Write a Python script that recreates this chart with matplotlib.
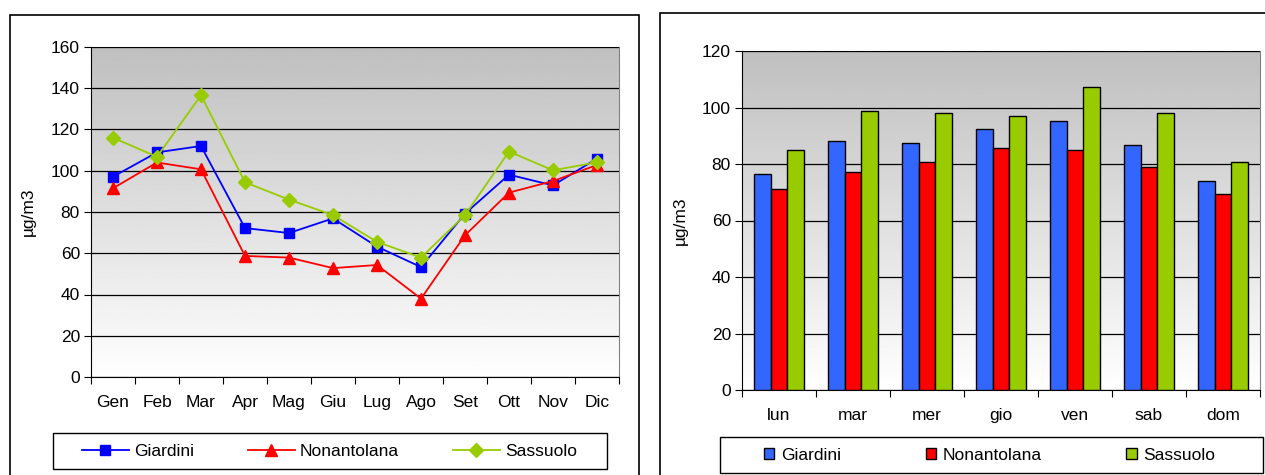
import numpy as np
import matplotlib
matplotlib.use("Agg")
import matplotlib.pyplot as plt
from matplotlib.patches import Rectangle, Patch
from matplotlib.lines import Line2D

plt.rcParams['font.family'] = ['Liberation Sans', 'DejaVu Sans']

# monthly means (left chart)
months = ['Gen', 'Feb', 'Mar', 'Apr', 'Mag', 'Giu', 'Lug', 'Ago', 'Set', 'Ott', 'Nov', 'Dic']
giardini_m = [97.1, 108.9, 112.0, 72.2, 69.8, 76.9, 63.2, 53.3, 79.2, 98.1, 92.9, 105.9]
nonantolana_m = [91.5, 104.0, 100.7, 58.7, 57.9, 52.8, 54.3, 38.0, 68.7, 89.4, 95.0, 102.8]
sassuolo_m = [116.0, 106.8, 136.6, 94.4, 86.0, 78.5, 65.5, 57.9, 78.5, 109.3, 100.2, 104.1]

# weekday means (right chart)
days = ['lun', 'mar', 'mer', 'gio', 'ven', 'sab', 'dom']
giardini_d = [76.6, 88.1, 87.5, 92.3, 95.2, 86.8, 74.0]
nonantolana_d = [71.1, 77.2, 80.7, 85.6, 85.0, 79.1, 69.3]
sassuolo_d = [84.9, 98.9, 98.2, 97.1, 107.3, 98.2, 80.7]

series = ['Giardini', 'Nonantolana', 'Sassuolo']

W, H = 1265, 475
FS = 12.5
fig = plt.figure(figsize=(W / 100, H / 100), dpi=100)
fig.patch.set_facecolor('white')


def px_axes(x0, y0, x1, y1):
    return fig.add_axes([x0 / W, 1 - y1 / H, (x1 - x0) / W, (y1 - y0) / H])


def px_box(x0, y0, x1, y1, lw=1.0):
    fig.patches.append(Rectangle((x0 / W, 1 - y1 / H), (x1 - x0) / W, (y1 - y0) / H,
                                 transform=fig.transFigure, fill=False,
                                 edgecolor='black', linewidth=lw))


def gradient_bg(ax):
    grad = np.linspace(1.0, 0.75, 256).reshape(-1, 1)
    ax.imshow(grad, cmap='gray', vmin=0, vmax=1, aspect='auto',
              extent=[0, 1, 0, 1], transform=ax.transAxes, zorder=0,
              origin='lower', interpolation='bilinear')


def style_axes(ax):
    for s in ['top', 'right']:
        ax.spines[s].set_color('#808080')
    for s in ['left', 'bottom']:
        ax.spines[s].set_color('black')
    ax.yaxis.grid(True, color='black', linewidth=0.9)
    ax.set_axisbelow(False)
    ax.tick_params(axis='y', direction='out', length=5, labelsize=FS, pad=3)
    ax.tick_params(axis='x', which='major', direction='out', length=5, labelbottom=False)
    ax.tick_params(axis='x', which='minor', length=0, labelsize=FS, pad=13)


# outer frames
px_box(10, 15, 639, 500, lw=1.2)
px_box(660, 13, 1300, 500, lw=1.2)

# left: line chart
ax1 = px_axes(91, 47, 619, 377)
gradient_bg(ax1)
x = np.arange(len(months))
ax1.plot(x, giardini_m, color='#0000FF', marker='s', markersize=7, linewidth=1.3, zorder=3)
ax1.plot(x, nonantolana_m, color='#FF0000', marker='^', markersize=8, linewidth=1.3, zorder=3)
ax1.plot(x, sassuolo_m, color='#99CC00', marker='D', markersize=7, linewidth=1.3, zorder=3)
ax1.set_xlim(-0.5, len(months) - 0.5)
ax1.set_ylim(0, 160)
ax1.set_yticks(range(0, 161, 20))
ax1.set_xticks(np.arange(-0.5, len(months), 1))
ax1.set_xticks(x, minor=True)
ax1.set_xticklabels(months, minor=True)
style_axes(ax1)
ax1.set_ylabel('µg/m3', fontsize=FS)
ax1.yaxis.set_label_coords((36 - 91) / 528, 0.5)

handles1 = [Line2D([], [], color='#0000FF', marker='s', markersize=7, linewidth=1.3),
            Line2D([], [], color='#FF0000', marker='^', markersize=8, linewidth=1.3),
            Line2D([], [], color='#99CC00', marker='D', markersize=7, linewidth=1.3)]
px_box(53, 433, 607, 469)
fig.legend(handles1, series, loc='center left',
           bbox_to_anchor=(82 / W, 1 - 451 / H), ncol=3, fontsize=FS,
           frameon=False, handlelength=2.7, handletextpad=0.3,
           columnspacing=3.1, borderaxespad=0, borderpad=0)

# right: bar chart
ax2 = px_axes(742, 51, 1260, 390)
gradient_bg(ax2)
xd = np.arange(len(days))
bw = 0.225
colors = ['#3366FF', '#FF0000', '#99CC00']
for i, vals in enumerate([giardini_d, nonantolana_d, sassuolo_d]):
    ax2.bar(xd + (i - 1) * bw, vals, width=bw, color=colors[i],
            edgecolor='black', linewidth=1.0, zorder=3)
ax2.set_xlim(-0.5, len(days) - 0.5)
ax2.set_ylim(0, 120)
ax2.set_yticks(range(0, 121, 20))
ax2.set_xticks(np.arange(-0.5, len(days), 1))
ax2.set_xticks(xd, minor=True)
ax2.set_xticklabels(days, minor=True)
style_axes(ax2)
ax2.set_ylabel('µg/m3', fontsize=FS)
ax2.yaxis.set_label_coords((688 - 742) / 518, 0.5)

handles2 = [Patch(facecolor=c, edgecolor='black', linewidth=1.0) for c in colors]
px_box(720, 437, 1263, 473)
fig.legend(handles2, series, loc='center left',
           bbox_to_anchor=(764 / W, 1 - 455 / H), ncol=3, fontsize=FS,
           frameon=False, handlelength=0.6, handleheight=0.6,
           handletextpad=0.4, columnspacing=4.85, borderaxespad=0, borderpad=0)

fig.savefig('out.png', dpi=100)
